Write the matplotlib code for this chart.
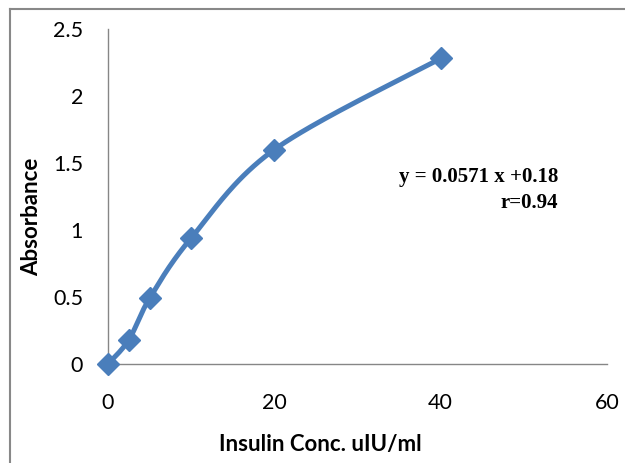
import numpy as np
import matplotlib
matplotlib.use("Agg")
import matplotlib.pyplot as plt
from matplotlib.lines import Line2D

conc = [0, 2.5, 5, 10, 20, 40]
absorbance = [0.0, 0.18, 0.49, 0.94, 1.60, 2.28]
x_ticks = [0, 20, 40, 60]
y_ticks = [0, 0.5, 1, 1.5, 2, 2.5]
y_tick_labels = ["0", "0.5", "1", "1.5", "2", "2.5"]
equation = "y = 0.0571 x +0.18"
r_text = "r=0.94"

W, H = 625, 463
fig = plt.figure(figsize=(W / 100, H / 100), dpi=100)
ax = fig.add_axes([108 / W, 1 - 364 / H, (607 - 108) / W, (364 - 29) / H])
ax.set_xlim(0, 60)
ax.set_ylim(0, 2.5)

# smooth curve (Catmull-Rom style Bezier, in screen-like units)
sx, sy = 499 / 60, 335 / 2.5
P = np.column_stack([np.array(conc) * sx, np.array(absorbance) * sy])
curve = []
n = len(P)
for i in range(n - 1):
    p0 = P[i - 1] if i > 0 else P[i]
    p1 = P[i]
    p2 = P[i + 1]
    p3 = P[i + 2] if i + 2 < n else P[i + 1]
    c1 = p1 + (p2 - p0) / 6
    c2 = p2 - (p3 - p1) / 6
    t = np.linspace(0, 1, 40)[:, None]
    seg = (1 - t) ** 3 * p1 + 3 * (1 - t) ** 2 * t * c1 + 3 * (1 - t) * t ** 2 * c2 + t ** 3 * p2
    curve.append(seg if i == 0 else seg[1:])
curve = np.vstack(curve)
color = "#4A7EBB"
ax.plot(curve[:, 0] / sx, curve[:, 1] / sy, color=color, lw=3.6, solid_capstyle="round", clip_on=False, zorder=3)
ax.plot(conc, absorbance, linestyle="none", marker="D", markersize=11, color=color, clip_on=False, zorder=4)

for s in ["top", "right"]:
    ax.spines[s].set_visible(False)
for s in ["left", "bottom"]:
    ax.spines[s].set_color("#868686")
    ax.spines[s].set_linewidth(1.0)

tick_font = dict(family=["Lato", "DejaVu Sans"], size=15.5)
ax.set_xticks(x_ticks)
ax.set_xticklabels([str(v) for v in x_ticks], **tick_font)
ax.set_yticks(y_ticks)
ax.set_yticklabels(y_tick_labels, **tick_font)
ax.tick_params(axis="x", length=0, pad=21)
ax.tick_params(axis="y", length=0, pad=18)

fig.text(320 / W, 1 - 444 / H, "Insulin Conc. uIU/ml", ha="center", va="center",
         family=["Lato", "DejaVu Sans"], fontsize=16, fontweight="bold")
fig.text(32 / W, 1 - 217 / H, "Absorbance", ha="center", va="center", rotation=90,
         family=["Lato", "DejaVu Sans"], fontsize=16, fontweight="bold")

fig.text(558 / W, 1 - 177 / H, equation, ha="right", va="center",
         family=["Liberation Serif", "DejaVu Serif"], fontsize=15, fontweight="bold")
fig.text(558 / W, 1 - 203 / H, r_text, ha="right", va="center",
         family=["Liberation Serif", "DejaVu Serif"], fontsize=15, fontweight="bold")

# chart frame (top and left edges visible)
fig.add_artist(Line2D([10 / W, 10 / W], [0, 1 - 8.5 / H], transform=fig.transFigure, color="#888888", lw=1.5))
fig.add_artist(Line2D([10 / W, 1], [1 - 8.5 / H, 1 - 8.5 / H], transform=fig.transFigure, color="#888888", lw=1.5))

fig.savefig("out.png", dpi=100)
